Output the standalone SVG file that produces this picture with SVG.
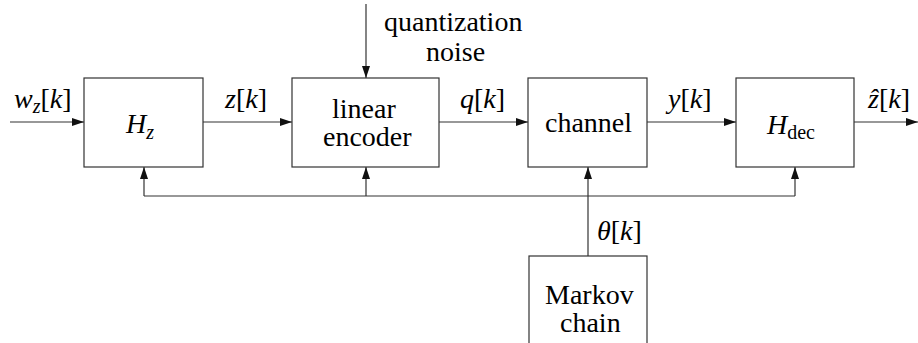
<svg xmlns="http://www.w3.org/2000/svg" width="918" height="343" viewBox="0 0 918 343">
<style>
.box{fill:#fff;stroke:#333;stroke-width:1.2}
.ln{fill:none;stroke:#333;stroke-width:1.2}
.m{font-style:italic}
.s{font-family:'Liberation Serif',serif;font-size:28px}
</style>
<defs>
<marker id="ah" viewBox="0 0 12 8" refX="12" refY="4" markerWidth="12" markerHeight="8" markerUnits="userSpaceOnUse" orient="auto">
<path d="M0,0 L12,4 L0,8 z" fill="#111"/>
</marker>
</defs>
<rect width="918" height="343" fill="#fff"/>
<g id="connectors">
<line class="ln" x1="10" y1="122" x2="84" y2="122" marker-end="url(#ah)"/>
<line class="ln" x1="203" y1="122" x2="292" y2="122" marker-end="url(#ah)"/>
<line class="ln" x1="439" y1="122" x2="528" y2="122" marker-end="url(#ah)"/>
<line class="ln" x1="647" y1="122" x2="736" y2="122" marker-end="url(#ah)"/>
<line class="ln" x1="854" y1="122" x2="918" y2="122" marker-end="url(#ah)"/>
<line class="ln" x1="366" y1="4" x2="366" y2="78" marker-end="url(#ah)"/>
<line class="ln" x1="144" y1="196" x2="795" y2="196"/>
<line class="ln" x1="144" y1="196" x2="144" y2="167" marker-end="url(#ah)"/>
<line class="ln" x1="366" y1="196" x2="366" y2="167" marker-end="url(#ah)"/>
<line class="ln" x1="795" y1="196" x2="795" y2="167" marker-end="url(#ah)"/>
<line class="ln" x1="588" y1="256" x2="588" y2="167" marker-end="url(#ah)"/>
</g>
<g id="labels">
<text class="s" x="14" y="108"><tspan class="m">w</tspan><tspan class="m" font-size="20" dy="5">z</tspan><tspan dy="-5">[</tspan><tspan class="m">k</tspan>]</text>
<text class="s" x="225" y="108"><tspan class="m">z</tspan>[<tspan class="m">k</tspan>]</text>
<text class="s" x="460" y="108"><tspan class="m">q</tspan>[<tspan class="m">k</tspan>]</text>
<text class="s" x="668" y="108"><tspan class="m">y</tspan>[<tspan class="m">k</tspan>]</text>
<text class="s" x="868" y="108"><tspan class="m">ẑ</tspan>[<tspan class="m">k</tspan>]</text>
<text class="s" x="597" y="240"><tspan class="m">θ</tspan>[<tspan class="m">k</tspan>]</text>
<text class="s" x="384" y="31">quantization</text>
<text class="s" x="426" y="61">noise</text>
</g>
<g id="Hz">
<rect class="box" x="84" y="78" width="119" height="89"/>
<text class="s" x="126" y="133"><tspan class="m">H</tspan><tspan class="m" font-size="20" dy="6">z</tspan></text>
</g>
<g id="encoder">
<rect class="box" x="292" y="78" width="147" height="89"/>
<text class="s" x="332" y="118">linear</text>
<text class="s" x="323" y="146">encoder</text>
</g>
<g id="channel">
<rect class="box" x="528" y="78" width="119" height="89"/>
<text class="s" x="545" y="132">channel</text>
</g>
<g id="Hdec">
<rect class="box" x="736" y="78" width="118" height="89"/>
<text class="s" x="767" y="134"><tspan class="m">H</tspan><tspan font-size="20" dy="5">dec</tspan></text>
</g>
<g id="markov">
<rect class="box" x="529" y="256" width="118" height="100"/>
<text class="s" x="545" y="304">Markov</text>
<text class="s" x="560" y="332">chain</text>
</g>
</svg>
